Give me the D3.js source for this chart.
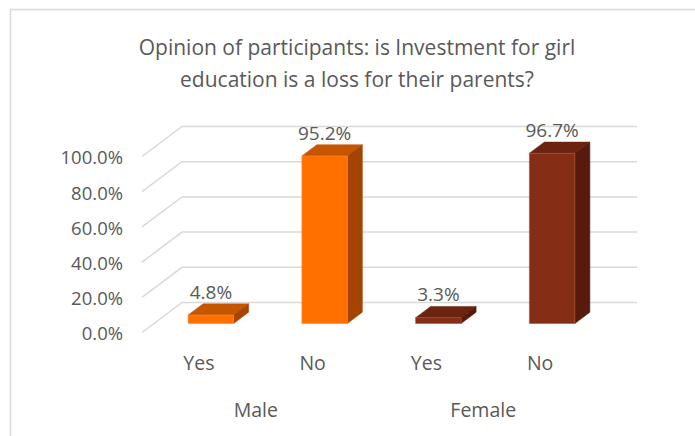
<!DOCTYPE html>
<html lang="en">
  <head>
    <meta charset="utf-8">
    <title>Opinion of participants</title>
    <script src="https://d3js.org/d3.v7.min.js"></script>
    <style>
      body { margin: 0; background: #fff; }
      text { font-family: "Open Sans", sans-serif; fill: #595959; }
    </style>
  </head>
  <body>
    <svg id="chart"></svg>
    <script type="text/javascript">
      // 1) data
      let groups = ["Male", "Female"];
      let answers = ["Yes", "No"];
      let maleValues = [4.8, 95.2];
      let femaleValues = [3.3, 96.7];
      let yTicks = [0, 20, 40, 60, 80, 100];

      // one row per bar
      let bars = [];
      groups.forEach(function(g, gi) {
        let vals = gi === 0 ? maleValues : femaleValues;
        answers.forEach(function(a, ai) {
          bars.push({key: g + "-" + a, group: g, answer: a, value: vals[ai]});
        });
      });

      // 2) vars
      let W = 695, H = 436;
      let front = {left: 142, right: 597, bottom: 332.5, top: 156.5};
      let DX = 40, DY = -30;          // depth of the floor/back wall
      let d0 = 0.3, d1 = 0.675;       // bar depth inside the box

      let colors = {
        Male:   {front: "#ff7000", top: "#c65500", side: "#a44400", edge: "#ff8a33"},
        Female: {front: "#852d15", top: "#6a2410", side: "#561b0c", edge: "#a4553f"}
      };

      let svg = d3.select("#chart").attr("width", W).attr("height", H);

      // chart border
      svg.append("rect")
        .attr("x", 10.5).attr("y", 9.5)
        .attr("width", 720).attr("height", 460)
        .attr("fill", "none").attr("stroke", "#d9d9d9").attr("stroke-width", 1.5);

      // 3) scales
      let x = d3.scaleBand()
        .domain(bars.map(d => d.key))
        .range([front.left, front.right])
        .paddingInner(0.6)
        .paddingOuter(0.3);

      let y = d3.scaleLinear()
        .domain([0, 100])
        .range([front.bottom, front.top]);

      function proj(px, py, d) {
        return [px + DX * d, py + DY * d];
      }

      // 4) gridlines: diagonal on the left side + line along back wall
      let grid = svg.append("g");
      yTicks.forEach(function(t) {
        let a = proj(front.left, y(t), 0);
        let b = proj(front.left, y(t), 1);
        let c = proj(front.right, y(t), 1);
        grid.append("path")
          .attr("d", "M" + a + "L" + b + "L" + c)
          .attr("fill", "none")
          .attr("stroke", "#d9d9d9")
          .attr("stroke-width", 1.5);
      });

      // 5) bars as three faces
      let barG = svg.selectAll(".bar")
        .data(bars)
        .enter()
        .append("g")
        .attr("class", "bar");

      barG.append("path")  // top
        .attr("d", function(d) {
          let x0 = x(d.key), x1 = x0 + x.bandwidth(), yt = y(d.value);
          return "M" + proj(x0, yt, d0) + "L" + proj(x1, yt, d0) + "L" + proj(x1, yt, d1) + "L" + proj(x0, yt, d1) + "Z";
        })
        .attr("fill", d => colors[d.group].top)
        .attr("stroke", d => colors[d.group].top)
        .attr("stroke-width", 0.5);

      barG.append("path")  // right side
        .attr("d", function(d) {
          let x1 = x(d.key) + x.bandwidth(), yt = y(d.value), yb = y(0);
          return "M" + proj(x1, yb, d0) + "L" + proj(x1, yt, d0) + "L" + proj(x1, yt, d1) + "L" + proj(x1, yb, d1) + "Z";
        })
        .attr("fill", d => colors[d.group].side)
        .attr("stroke", d => colors[d.group].side)
        .attr("stroke-width", 0.5);

      barG.append("path")  // front
        .attr("d", function(d) {
          let x0 = x(d.key), x1 = x0 + x.bandwidth(), yt = y(d.value), yb = y(0);
          return "M" + proj(x0, yb, d0) + "L" + proj(x0, yt, d0) + "L" + proj(x1, yt, d0) + "L" + proj(x1, yb, d0) + "Z";
        })
        .attr("fill", d => colors[d.group].front)
        .attr("stroke", d => colors[d.group].edge)
        .attr("stroke-width", 0.6);

      // 6) data labels
      svg.selectAll(".lbl")
        .data(bars)
        .enter()
        .append("text")
        .attr("class", "lbl")
        .attr("x", d => proj(x(d.key) + x.bandwidth() / 2, 0, d0)[0])
        .attr("y", d => proj(0, y(d.value), d1)[1] - 5)
        .attr("text-anchor", "middle")
        .attr("font-size", 19)
        .text(d => d.value.toFixed(1) + "%");

      // 7) axes
      let yAxis = d3.axisLeft(y)
        .tickValues(yTicks)
        .tickSize(0)
        .tickPadding(19)
        .tickFormat(d => d.toFixed(1) + "%");

      let yg = svg.append("g")
        .attr("transform", "translate(" + front.left + ",1.5)")
        .call(yAxis);
      yg.select(".domain").remove();
      yg.selectAll("text")
        .attr("font-family", "Open Sans")
        .attr("font-size", 18.5)
        .attr("fill", "#595959");

      let xAxis = d3.axisBottom(x)
        .tickSize(0)
        .tickPadding(24)
        .tickFormat(k => bars.find(b => b.key === k).answer);

      let xg = svg.append("g")
        .attr("transform", "translate(0," + front.bottom + ")")
        .call(xAxis);
      xg.select(".domain").remove();
      xg.selectAll("text")
        .attr("font-family", "Open Sans")
        .attr("font-size", 19.5)
        .attr("fill", "#595959");

      // group labels
      svg.selectAll(".grp")
        .data(groups)
        .enter()
        .append("text")
        .attr("class", "grp")
        .attr("x", function(g) {
          let keys = bars.filter(b => b.group === g).map(b => x(b.key) + x.bandwidth() / 2);
          return d3.mean(keys);
        })
        .attr("y", 417)
        .attr("text-anchor", "middle")
        .attr("font-size", 19.5)
        .text(d => d);

      // 8) title
      let title = ["Opinion of participants: is Investment for girl",
                   "education is a loss for their parents?"];
      svg.append("text")
        .attr("x", 357)
        .attr("y", 55)
        .attr("text-anchor", "middle")
        .attr("font-size", 21)
        .selectAll("tspan")
        .data(title)
        .enter()
        .append("tspan")
        .attr("x", 357)
        .attr("dy", (d, i) => i === 0 ? 0 : 32)
        .text(d => d);
    </script>
  </body>
</html>
